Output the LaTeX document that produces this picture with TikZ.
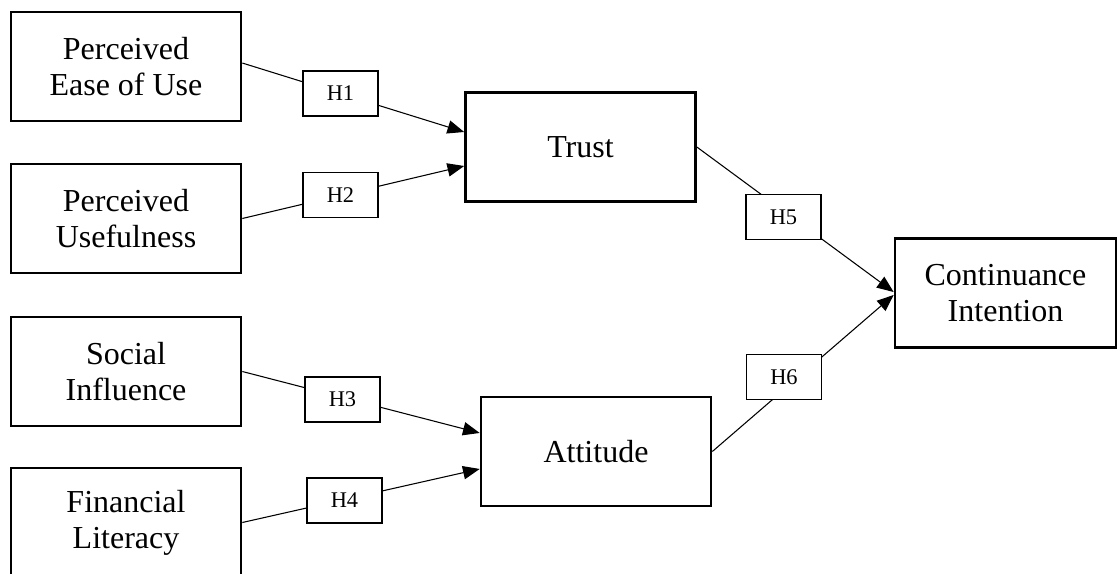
\documentclass[tikz,border=0pt]{standalone}
\usepackage{fontspec}
\setmainfont{Liberation Serif}
\usetikzlibrary{arrows.meta}

\begin{document}
\begin{tikzpicture}[x=0.75pt,y=-0.75pt,
  construct/.style={rectangle,draw,line width=2pt,minimum width=172.5pt,minimum height=81.75pt,inner sep=2pt,align=center,font=\fontsize{24}{27}\selectfont},
  hyp/.style={rectangle,draw,line width=0.8pt,fill=white,minimum width=56.25pt,minimum height=33.75pt,inner sep=0pt,font=\fontsize{16.8}{20}\selectfont},
  link/.style={line width=0.8pt,-{Triangle[length=12.5pt,width=10pt]}}]
\useasboundingbox (0,0) rectangle (1118,574);
\clip (0,0) rectangle (1118,574);
% constructs
\node[construct] (peou) at (126,66.5) {Perceived\\Ease of Use};
\node[construct] (pu) at (126,218.5) {Perceived\\Usefulness};
\node[construct] (si) at (126,371.5) {Social\\Influence};
\node[construct] (fl) at (126,522.5) {Financial\\Literacy};
\node[construct] (trust) at (580.5,147) {Trust};
\node[construct] (att) at (596,451.5) {Attitude};
\node[construct,minimum width=165.75pt] (ci) at (1005.5,293) {Continuance\\Intention};
% paths
\draw[link] ([yshift=2.6pt]peou.east) -- ([yshift=11.25pt]trust.west);
\draw[link] (pu.east) -- ([yshift=-14.25pt]trust.west);
\draw[link] (si.east) -- ([yshift=13.9pt]att.west);
\draw[link] (fl.east) -- ([yshift=-13.1pt]att.west);
\draw[link] (trust.east) -- ([yshift=0.75pt]ci.west);
\draw[link] (att.east) -- ([yshift=-1.5pt]ci.west);
% hypotheses
\node[hyp] (h1) at (340.5,93.5) {H1};
\node[hyp] (h2) at (340.5,195) {H2};
\node[hyp] (h3) at (342.5,399.5) {H3};
\node[hyp] (h4) at (344.5,500.5) {H4};
\node[hyp] (h5) at (783.5,217) {H5};
\node[hyp] (h6) at (784,377) {H6};
\end{tikzpicture}
\end{document}
